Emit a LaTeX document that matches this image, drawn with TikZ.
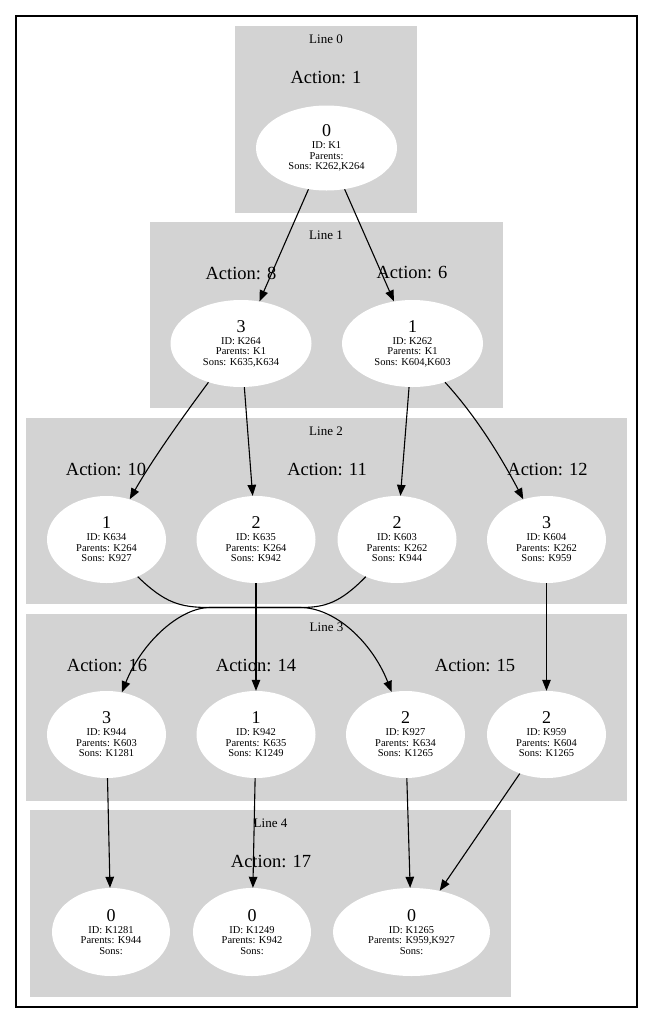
\documentclass[tikz,border=0pt]{standalone}
\usepackage{fontspec}
\setmainfont{Liberation Serif}
\usetikzlibrary{shapes.geometric,arrows.meta}
\definecolor{clgray}{RGB}{211,211,211}
\newcommand\bignum[1]{{\fontsize{18}{18}\selectfont #1}\\[1.5pt]}
\begin{document}
\begin{tikzpicture}[x=1pt,y=-1pt,
  cluster/.style={fill=clgray,draw=none},
  linelbl/.style={font=\fontsize{13}{13}\selectfont,inner sep=0},
  actlbl/.style={font=\fontsize{18.5}{18.5}\selectfont,inner sep=0},
  st/.style={ellipse,fill=white,draw=none,inner sep=0,minimum width=119pt,minimum height=87pt,align=center,font=\fontsize{10.5}{10.5}\selectfont},
  wide/.style={minimum width=141pt},
  wider/.style={minimum width=157pt},
  conn/.style={-{Triangle[length=11pt,width=8.5pt]},line width=1.1pt}]
\useasboundingbox (0,0) rectangle (653,1023);
\draw[line width=1.1pt,draw=black] (16,16) rectangle (637,1007);
% clusters
\fill[cluster] (235,26) rectangle (417,213);
\fill[cluster] (150,222) rectangle (503,408);
\fill[cluster] (26,418) rectangle (627,604);
\fill[cluster] (26,614) rectangle (627,801);
\fill[cluster] (30,810) rectangle (511,997);
% cluster labels
\node[linelbl] (l0) at (326,39) {Line 0};
\node[linelbl] (l1) at (326,235) {Line 1};
\node[linelbl] (l2) at (326,431) {Line 2};
\node[linelbl] (l3) at (326.5,627) {Line 3};
\node[linelbl] (l4) at (270.5,823) {Line 4};
% action labels
\node[actlbl] (a1) at (326,78) {Action: 1};
\node[actlbl] (a8) at (241,273) {Action: 8};
\node[actlbl] (a6) at (412,273) {Action: 6};
\node[actlbl] (a10) at (106,469) {Action: 10};
\node[actlbl] (a11) at (327,469) {Action: 11};
\node[actlbl] (a12) at (547.5,469) {Action: 12};
\node[actlbl] (a16) at (107,665) {Action: 16};
\node[actlbl] (a14) at (256,665) {Action: 14};
\node[actlbl] (a15) at (475,665) {Action: 15};
\node[actlbl] (a17) at (271,861) {Action: 17};
% states
\node[st,wide,minimum height=85pt] (k1) at (326.5,148) {\bignum{0}ID: K1\\Parents:\\Sons: K262,K264};
\node[st,wide] (k264) at (241,343.5) {\bignum{3}ID: K264\\Parents: K1\\Sons: K635,K634};
\node[st,wide] (k262) at (412.5,343.5) {\bignum{1}ID: K262\\Parents: K1\\Sons: K604,K603};
\node[st] (k634) at (106.5,539.5) {\bignum{1}ID: K634\\Parents: K264\\Sons: K927};
\node[st] (k635) at (256,539.5) {\bignum{2}ID: K635\\Parents: K264\\Sons: K942};
\node[st] (k603) at (397,539.5) {\bignum{2}ID: K603\\Parents: K262\\Sons: K944};
\node[st] (k604) at (546.5,539.5) {\bignum{3}ID: K604\\Parents: K262\\Sons: K959};
\node[st] (k944) at (106.5,734.5) {\bignum{3}ID: K944\\Parents: K603\\Sons: K1281};
\node[st] (k942) at (256,734.5) {\bignum{1}ID: K942\\Parents: K635\\Sons: K1249};
\node[st] (k927) at (405.5,734.5) {\bignum{2}ID: K927\\Parents: K634\\Sons: K1265};
\node[st] (k959) at (546.5,734.5) {\bignum{2}ID: K959\\Parents: K604\\Sons: K1265};
\node[st,minimum width=118pt,minimum height=88pt] (k1281) at (111,932) {\bignum{0}ID: K1281\\Parents: K944\\Sons:};
\node[st,minimum width=118pt,minimum height=88pt] (k1249) at (252,932) {\bignum{0}ID: K1249\\Parents: K942\\Sons:};
\node[st,wider,minimum height=88pt] (k1265) at (411.5,932) {\bignum{0}ID: K1265\\Parents: K959,K927\\Sons:};
% edges
\draw[conn] (k1) -- (k264);
\draw[conn] (k1) -- (k262);
\draw[conn] (k264.-130) .. controls (188,410) and (155,455) .. (k634.60);
\draw[conn] (k264) -- (k635);
\draw[conn] (k262) -- (k603);
\draw[conn] (k262.-50) .. controls (475,415) and (500,455) .. (k604.120);
\draw[conn] (k634.-50) .. controls (165,603) and (180,607.5) .. (210,607.5) -- (300,607.5) .. controls (335,607.5) and (372,642) .. (k927.108);
\draw[conn] (k603.-130) .. controls (340,603) and (325,607.5) .. (300,607.5) -- (210,607.5) .. controls (180,607.5) and (142,642) .. (k944.70);
\draw[conn] (k635) -- (k942);
\draw[conn] (k604) -- (k959);
\draw[conn] (k944) -- (k1281);
\draw[conn] (k942) -- (k1249);
\draw[conn] (k927) -- (k1265);
\draw[conn] (k959) -- (k1265);
\end{tikzpicture}
\end{document}
